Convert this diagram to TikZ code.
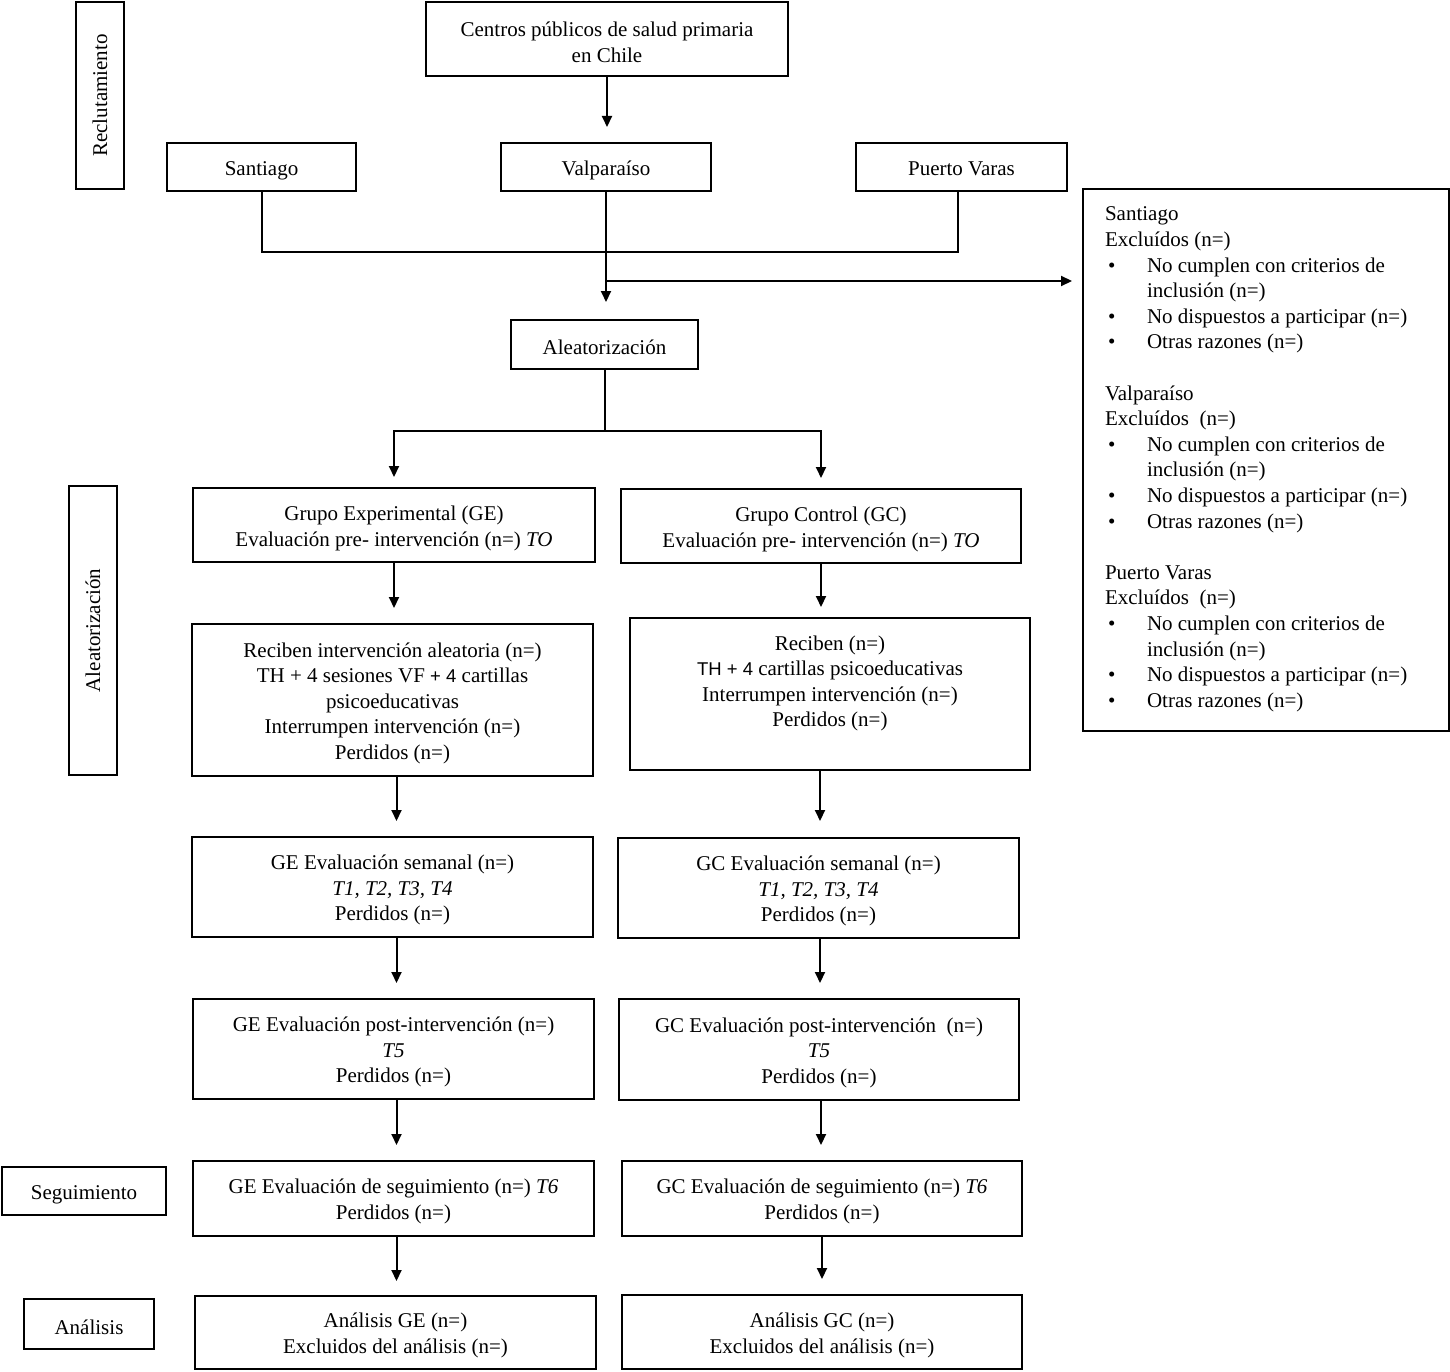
\documentclass[tikz,border=0pt]{standalone}
\usepackage{fontspec}
\setmainfont{Liberation Serif}
\setsansfont{Liberation Sans}
\usetikzlibrary{arrows.meta}
\newcommand\exbul[1]{\hspace*{3pt}\makebox[39pt][l]{\textbullet}#1}
\newcommand\excont[1]{\hspace*{42pt}#1}
\newcommand\sfbit[1]{{\sffamily\fontsize{18.5}{25.6}\selectfont #1}}
\newcommand\fl{\rule{0pt}{21pt}}
\begin{document}
\begin{tikzpicture}[x=1pt,y=-1pt,
  every node/.style={font=\fontsize{21}{25.6}\selectfont},
  box/.style={draw, line width=2pt, inner sep=0pt},
  lbox/.style={box, align=center},
  tbox/.style={box, align=center, execute at begin node={\rule{0pt}{21pt}}},
  sz/.style 2 args={minimum width=#1pt, minimum height=#2pt},
  ln/.style={line width=2pt},
  arr/.style={line width=2pt, -{Triangle[length=11pt,width=10pt]}}]
\useasboundingbox (0,0) rectangle (1450,1372);

% side labels
\node[lbox, rotate=90, sz={187}{48}] (reclut) at (100,95.5) {Reclutamiento};
\node[lbox, rotate=90, sz={289}{48}] (alelab) at (93,630.5) {Aleatorización};
\node[tbox, sz={164}{48}] (seg) at (84,1191) {Seguimiento};
\node[tbox, sz={130}{50}] (ana) at (89,1324) {Análisis};

% top
\node[lbox, sz={362}{74}] (centros) at (607,39) {\fl Centros públicos de salud primaria\\en Chile};
\node[tbox, sz={189}{48}] (sant) at (261.5,167) {Santiago};
\node[tbox, sz={210}{48}] (valp) at (606,167) {Valparaíso};
\node[tbox, sz={211}{48}] (pv) at (961.5,167) {\rule[-4pt]{0pt}{0pt}Puerto Varas};
\node[tbox, sz={187}{49}] (aleat) at (604.5,344.5) {Aleatorización};

% excluded box
\node[box, anchor=north west, sz={366}{542}] (excl) at (1082,188) {\parbox[c][542pt][t]{322pt}{\raggedright\vspace*{18pt}%
Santiago\\
Excluídos (n=)\\
\exbul{No cumplen con criterios de}\\
\excont{inclusión (n=)}\\
\exbul{No dispuestos a participar (n=)}\\
\exbul{Otras razones (n=)}\\[25.6pt]
Valparaíso\\
Excluídos~~(n=)\\
\exbul{No cumplen con criterios de}\\
\excont{inclusión (n=)}\\
\exbul{No dispuestos a participar (n=)}\\
\exbul{Otras razones (n=)}\\[25.6pt]
Puerto Varas\\
Excluídos~~(n=)\\
\exbul{No cumplen con criterios de}\\
\excont{inclusión (n=)}\\
\exbul{No dispuestos a participar (n=)}\\
\exbul{Otras razones (n=)}}};

% GE column
\node[lbox, sz={402}{74}] (ge1) at (394,525) {\fl Grupo Experimental (GE)\\Evaluación pre- intervención (n=) \textit{TO}};
\node[lbox, sz={401}{152}] (ge2) at (392.5,700) {\fl Reciben intervención aleatoria (n=)\\TH + 4 sesiones VF \sfbit{+ 4} cartillas\\psicoeducativas\\Interrumpen intervención (n=)\\Perdidos (n=)};
\node[lbox, sz={401}{100}] (ge3) at (392.5,887) {\fl GE Evaluación semanal (n=)\\\textit{T1, T2, T3, T4}\\Perdidos (n=)};
\node[lbox, sz={401}{100}] (ge4) at (393.5,1049) {\fl GE Evaluación post-intervención (n=)\\\textit{T5}\\Perdidos (n=)};
\node[lbox, sz={401}{75}] (ge5) at (393.5,1198.5) {\fl GE Evaluación de seguimiento (n=) \textit{T6}\\Perdidos (n=)};
\node[lbox, sz={401}{73}] (ge6) at (395.5,1332.5) {\fl Análisis GE (n=)\\Excluidos del análisis (n=)};

% GC column
\node[lbox, sz={400}{74}] (gc1) at (821,526) {\fl Grupo Control (GC)\\Evaluación pre- intervención (n=) \textit{TO}};
\node[lbox, sz={400}{152}] (gc2) at (830,694) {Reciben (n=)\\\sfbit{TH + 4} cartillas psicoeducativas\\Interrumpen intervención (n=)\\Perdidos (n=)\\ \mbox{}};
\node[lbox, sz={401}{100}] (gc3) at (818.5,888) {\fl GC Evaluación semanal (n=)\\\textit{T1, T2, T3, T4}\\Perdidos (n=)};
\node[lbox, sz={400}{101}] (gc4) at (819,1049.5) {\fl GC Evaluación post-intervención~~(n=)\\\textit{T5}\\Perdidos (n=)};
\node[lbox, sz={400}{75}] (gc5) at (822,1198.5) {\fl GC Evaluación de seguimiento (n=) \textit{T6}\\Perdidos (n=)};
\node[lbox, sz={400}{74}] (gc6) at (822,1332) {\fl Análisis GC (n=)\\Excluidos del análisis (n=)};

% connectors top
\draw[arr, shorten >=15pt] (centros.south) -- (centros.south |- valp.north);
\coordinate (merge) at (605,252);
\draw[ln] (sant.south) -- (sant.south |- merge) -- ([xshift=-4pt]pv.south |- merge) -- ([xshift=-4pt]pv.south);
\draw[arr, shorten >=17pt] (valp.south) -- (valp.south |- aleat.north);
\coordinate (branch) at (605,281);
\draw[arr, shorten >=10pt] (branch) -- (branch -| excl.west);
\coordinate (split) at (605,431);
\draw[ln] (aleat.south) -- (aleat.south |- split);
\draw[arr, shorten >=10pt] (aleat.south |- split) -| (ge1.north);
\draw[arr, shorten >=10pt] (aleat.south |- split) -| (gc1.north);

% GE arrows
\draw[arr, shorten >=15pt] (ge1.south) -- (ge1.south |- ge2.north);
\draw[arr, shorten >=15pt] ([xshift=4pt]ge2.south) -- ([xshift=4pt]ge2.south |- ge3.north);
\draw[arr, shorten >=15pt] ([xshift=4pt]ge3.south) -- ([xshift=4pt]ge3.south |- ge4.north);
\draw[arr, shorten >=15pt] ([xshift=3pt]ge4.south) -- ([xshift=3pt]ge4.south |- ge5.north);
\draw[arr, shorten >=14pt] ([xshift=3pt]ge5.south) -- ([xshift=3pt]ge5.south |- ge6.north);

% GC arrows
\draw[arr, shorten >=10pt] (gc1.south) -- (gc1.south |- gc2.north);
\draw[arr, shorten >=16pt] ([xshift=-10pt]gc2.south) -- ([xshift=-10pt]gc2.south |- gc3.north);
\draw[arr, shorten >=15pt] ([xshift=1.5pt]gc3.south) -- ([xshift=1.5pt]gc3.south |- gc4.north);
\draw[arr, shorten >=15pt] ([xshift=2pt]gc4.south) -- ([xshift=2pt]gc4.south |- gc5.north);
\draw[arr, shorten >=15pt] (gc5.south) -- (gc5.south |- gc6.north);
\end{tikzpicture}
\end{document}
